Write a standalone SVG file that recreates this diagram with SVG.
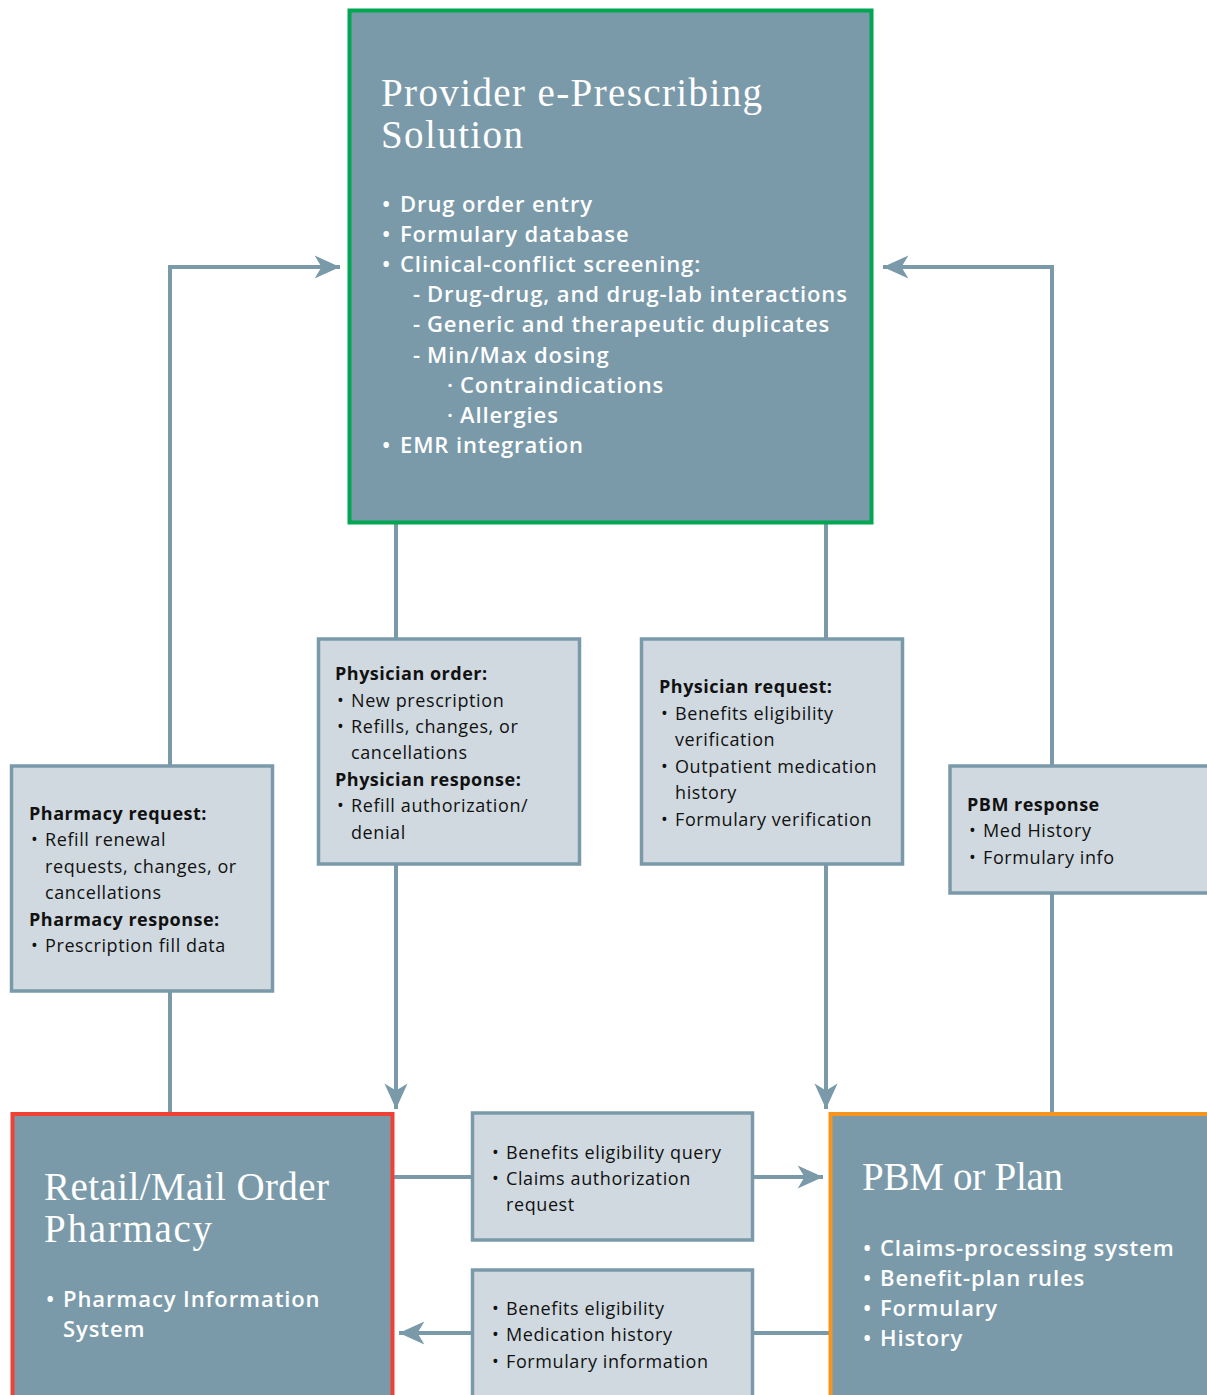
<svg xmlns="http://www.w3.org/2000/svg" width="1207" height="1395" viewBox="0 0 1207 1395">
<style>
.main{fill:#7a9aaa;stroke-width:4}
.lite{fill:#d0d9e0;stroke:#7a9aaa;stroke-width:3.5}
.conn{fill:none;stroke:#7a9aaa;stroke-width:4}
.ttl{font-family:"Liberation Serif","DejaVu Serif",serif;font-size:39px;fill:#ffffff}
.wb{font-family:"Open Sans","Noto Sans",sans-serif;font-weight:600;font-size:22px;fill:#ffffff;letter-spacing:0.9px}
.t{font-family:"Open Sans","Noto Sans",sans-serif;font-size:18px;fill:#111111;letter-spacing:0.6px}
.b{font-weight:700;letter-spacing:0.5px}
</style>
<defs>
<marker id="ah" markerUnits="userSpaceOnUse" markerWidth="30" markerHeight="30" viewBox="-24 -12 26 24" refX="0" refY="0" orient="auto">
<path d="M0,0 L-22,-10 L-16,0 L-22,10 Z" fill="#7a9aaa"/>
</marker>
</defs>
<g id="connectors">
<polyline class="conn" points="170,765 170,267 340,267" marker-end="url(#ah)"/>
<line class="conn" x1="170" y1="991" x2="170" y2="1112"/>
<polyline class="conn" points="1052,765 1052,267 883,267" marker-end="url(#ah)"/>
<line class="conn" x1="1052" y1="893" x2="1052" y2="1112"/>
<line class="conn" x1="396" y1="523" x2="396" y2="638"/>
<line class="conn" x1="396" y1="864" x2="396" y2="1109" marker-end="url(#ah)"/>
<line class="conn" x1="826" y1="523" x2="826" y2="638"/>
<line class="conn" x1="826" y1="864" x2="826" y2="1109" marker-end="url(#ah)"/>
<line class="conn" x1="394" y1="1177" x2="472" y2="1177"/>
<line class="conn" x1="753" y1="1177" x2="823" y2="1177" marker-end="url(#ah)"/>
<line class="conn" x1="829" y1="1333" x2="753" y2="1333"/>
<line class="conn" x1="472" y1="1333" x2="399" y2="1333" marker-end="url(#ah)"/>
</g>
<g id="provider">
<rect class="main" x="349.5" y="10.5" width="522" height="512" stroke="#00a651"/>
<text class="ttl" x="381" y="106" textLength="381" lengthAdjust="spacing">Provider e-Prescribing</text>
<text class="ttl" x="381" y="148" textLength="142" lengthAdjust="spacing">Solution</text>
<text class="wb" y="212"><tspan x="382">•</tspan><tspan x="400">Drug order entry</tspan></text>
<text class="wb" y="242"><tspan x="382">•</tspan><tspan x="400">Formulary database</tspan></text>
<text class="wb" y="272"><tspan x="382">•</tspan><tspan x="400">Clinical-conflict screening:</tspan></text>
<text class="wb" y="302"><tspan x="413">-</tspan><tspan x="427">Drug-drug, and drug-lab interactions</tspan></text>
<text class="wb" y="332"><tspan x="413">-</tspan><tspan x="427">Generic and therapeutic duplicates</tspan></text>
<text class="wb" y="363"><tspan x="413">-</tspan><tspan x="427">Min/Max dosing</tspan></text>
<text class="wb" y="393"><tspan x="447">·</tspan><tspan x="460">Contraindications</tspan></text>
<text class="wb" y="423"><tspan x="447">·</tspan><tspan x="460">Allergies</tspan></text>
<text class="wb" y="453"><tspan x="382">•</tspan><tspan x="400">EMR integration</tspan></text>
</g>
<g id="physician-order">
<rect class="lite" x="318.5" y="639" width="261" height="225"/>
<text class="t b" x="335" y="680">Physician order:</text>
<text class="t" y="707"><tspan x="337">•</tspan><tspan x="351">New prescription</tspan></text>
<text class="t" y="733"><tspan x="337">•</tspan><tspan x="351">Refills, changes, or</tspan></text>
<text class="t" x="351" y="759">cancellations</text>
<text class="t b" x="335" y="786">Physician response:</text>
<text class="t" y="812"><tspan x="337">•</tspan><tspan x="351">Refill authorization/</tspan></text>
<text class="t" x="351" y="839">denial</text>
</g>
<g id="physician-request">
<rect class="lite" x="641.5" y="639" width="261" height="225"/>
<text class="t b" x="659" y="693">Physician request:</text>
<text class="t" y="720"><tspan x="661">•</tspan><tspan x="675">Benefits eligibility</tspan></text>
<text class="t" x="675" y="746">verification</text>
<text class="t" y="773"><tspan x="661">•</tspan><tspan x="675">Outpatient medication</tspan></text>
<text class="t" x="675" y="799">history</text>
<text class="t" y="826"><tspan x="661">•</tspan><tspan x="675">Formulary verification</tspan></text>
</g>
<g id="pharmacy-request">
<rect class="lite" x="11.5" y="766" width="261" height="225"/>
<text class="t b" x="29" y="820">Pharmacy request:</text>
<text class="t" y="846"><tspan x="31">•</tspan><tspan x="45">Refill renewal</tspan></text>
<text class="t" x="45" y="873">requests, changes, or</text>
<text class="t" x="45" y="899">cancellations</text>
<text class="t b" x="29" y="926">Pharmacy response:</text>
<text class="t" y="952"><tspan x="31">•</tspan><tspan x="45">Prescription fill data</tspan></text>
</g>
<g id="pbm-response">
<rect class="lite" x="950" y="766" width="262" height="127"/>
<text class="t b" x="967" y="811">PBM response</text>
<text class="t" y="837"><tspan x="969">•</tspan><tspan x="983">Med History</tspan></text>
<text class="t" y="864"><tspan x="969">•</tspan><tspan x="983">Formulary info</tspan></text>
</g>
<g id="eligibility-query">
<rect class="lite" x="472.5" y="1113" width="280" height="127"/>
<text class="t" y="1159"><tspan x="492">•</tspan><tspan x="506">Benefits eligibility query</tspan></text>
<text class="t" y="1185"><tspan x="492">•</tspan><tspan x="506">Claims authorization</tspan></text>
<text class="t" x="506" y="1211">request</text>
</g>
<g id="eligibility-response">
<rect class="lite" x="472.5" y="1270" width="280" height="135"/>
<text class="t" y="1315"><tspan x="492">•</tspan><tspan x="506">Benefits eligibility</tspan></text>
<text class="t" y="1341"><tspan x="492">•</tspan><tspan x="506">Medication history</tspan></text>
<text class="t" y="1368"><tspan x="492">•</tspan><tspan x="506">Formulary information</tspan></text>
</g>
<g id="pharmacy">
<rect class="main" x="12.5" y="1114" width="380" height="300" stroke="#ef4136"/>
<text class="ttl" x="44" y="1200" textLength="285" lengthAdjust="spacing">Retail/Mail Order</text>
<text class="ttl" x="44" y="1242" textLength="168" lengthAdjust="spacing">Pharmacy</text>
<text class="wb" y="1307"><tspan x="46">•</tspan><tspan x="63">Pharmacy Information</tspan></text>
<text class="wb" x="63" y="1337">System</text>
</g>
<g id="pbm">
<rect class="main" x="830.5" y="1114" width="400" height="300" stroke="#f7941d"/>
<text class="ttl" x="862" y="1190" textLength="201" lengthAdjust="spacing">PBM or Plan</text>
<text class="wb" y="1256"><tspan x="863">•</tspan><tspan x="880">Claims-processing system</tspan></text>
<text class="wb" y="1286"><tspan x="863">•</tspan><tspan x="880">Benefit-plan rules</tspan></text>
<text class="wb" y="1316"><tspan x="863">•</tspan><tspan x="880">Formulary</tspan></text>
<text class="wb" y="1346"><tspan x="863">•</tspan><tspan x="880">History</tspan></text>
</g>
</svg>
